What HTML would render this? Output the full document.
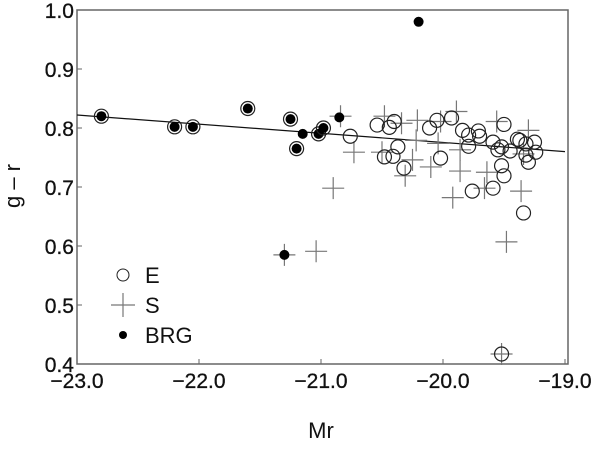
<!DOCTYPE html>
<html><head><meta charset="utf-8"><style>
body{margin:0;background:#fff}
text{font-family:"Liberation Sans",sans-serif;fill:#111}
</style></head><body>
<svg id="chart" width="600" height="446" xmlns="http://www.w3.org/2000/svg">
<g id="axes"></g>
<g id="marks"></g>
<g id="legend">
 <circle cx="123" cy="275" r="6" fill="none" stroke="#222"/>
 <text x="145" y="283" font-size="22">E</text>
 <path d="M111 305H135M123 293V317" stroke="#777" stroke-width="1.2"/>
 <text x="145" y="313" font-size="22">S</text>
 <circle cx="123" cy="335" r="4" fill="#000"/>
 <text x="145" y="343" font-size="22">BRG</text>
</g>
<text x="321" y="438" font-size="22" text-anchor="middle">Mr</text>
<text x="20" y="186" font-size="22" text-anchor="middle" transform="rotate(-90 20 186)">g – r</text>
</svg>
<script>
const xTicks=[-23,-22,-21,-20,-19];
const xTickLabels=["−23.0","−22.0","−21.0","−20.0","−19.0"];
const yTicks=[0.4,0.5,0.6,0.7,0.8,0.9,1.0];
const yTickLabels=["0.4","0.5","0.6","0.7","0.8","0.9","1.0"];
const fitLine=[[-23,0.822],[-19,0.760]];
const eMr=[-20.76,-20.54,-20.44,-20.40,-20.37,-20.48,-20.41,-20.32,-20.11,-20.05,-19.93,-20.02,-19.84,-19.79,-19.71,-19.70,-19.79,-19.76,-19.59,-19.50,-19.52,-19.55,-19.45,-19.39,-19.37,-19.32,-19.25,-19.24,-19.32,-19.30,-19.52,-19.50,-19.59,-19.34,-19.52];
const eGR=[0.786,0.805,0.801,0.811,0.768,0.751,0.752,0.732,0.800,0.813,0.817,0.749,0.796,0.788,0.795,0.786,0.769,0.693,0.776,0.806,0.768,0.763,0.761,0.781,0.779,0.773,0.776,0.759,0.754,0.742,0.736,0.719,0.698,0.656,0.417];
const sMr=[-20.48,-20.34,-20.21,-20.02,-19.89,-20.22,-20.04,-20.73,-20.50,-20.25,-20.31,-20.10,-19.86,-19.86,-19.64,-19.66,-19.92,-19.56,-19.30,-19.34,-19.36,-19.48,-20.90,-21.04,-20.84,-21.30,-19.52];
const sGR=[0.820,0.808,0.813,0.811,0.828,0.779,0.774,0.759,0.759,0.746,0.719,0.734,0.763,0.727,0.725,0.698,0.682,0.811,0.796,0.756,0.693,0.607,0.698,0.591,0.820,0.585,0.417];
const bMr=[-22.8,-22.2,-22.05,-21.6,-21.25,-21.2,-21.15,-21.02,-20.98,-20.85,-20.2,-21.3];
const bGR=[0.820,0.802,0.802,0.833,0.815,0.765,0.790,0.790,0.800,0.818,0.980,0.585];
const bRing=[1,1,1,1,1,1,0,1,1,0,0,0];

const NS="http://www.w3.org/2000/svg";
const X0=77,X1=568,Y0=364,Y1=10;
function sx(v){return 77+(v+23)*122;}
function sy(v){return 364-(v-0.4)*590;}
function mk(tag,attrs,parent){const e=document.createElementNS(NS,tag);for(const k in attrs)e.setAttribute(k,attrs[k]);parent.appendChild(e);return e;}
const axes=document.getElementById('axes'),marks=document.getElementById('marks');
const frame=mk('rect',{x:X0,y:Y1,width:X1-X0,height:Y0-Y1,fill:'none',stroke:'#666','stroke-width':1.5},axes);


xTicks.forEach((t,i)=>{
 const l=mk('line',{x1:sx(t),x2:sx(t),y1:Y0,y2:Y0-5,stroke:'#666'},axes);
 
 
 const tx=mk('text',{x:sx(t),y:Y0+24,'font-size':21,'text-anchor':'middle','stroke':'#111','stroke-width':0.3},axes);
 tx.textContent=xTickLabels[i];
 
 
});
yTicks.forEach((t,i)=>{
 const l=mk('line',{x1:X0,x2:X0+5,y1:sy(t),y2:sy(t),stroke:'#666'},axes);
 
 
 const tx=mk('text',{x:X0-3,y:sy(t)+8,'font-size':21,'text-anchor':'end','stroke':'#111','stroke-width':0.3},axes);
 tx.textContent=yTickLabels[i];
 
 
});
const fl=mk('line',{x1:sx(fitLine[0][0]),y1:sy(fitLine[0][1]),x2:sx(fitLine[1][0]),y2:sy(fitLine[1][1]),stroke:'#111','stroke-width':1.2},marks);


sMr.forEach((m,i)=>{
 const x=sx(m),y=sy(sGR[i]);
 const p=mk('path',{d:`M${x-11} ${y}H${x+11}M${x} ${y-11}V${y+11}`,stroke:'#777','stroke-width':1.2},marks);
 
 
});
eMr.forEach((m,i)=>{
 const c=mk('circle',{cx:sx(m),cy:sy(eGR[i]),r:7,fill:'none',stroke:'#222','stroke-width':1.2},marks);
 
 
});
bMr.forEach((m,i)=>{
 if(bRing[i]){
  const r=mk('circle',{cx:sx(m),cy:sy(bGR[i]),r:7,fill:'none',stroke:'#222','stroke-width':1.2},marks);
  
  
 }
 const c=mk('circle',{cx:sx(m),cy:sy(bGR[i]),r:5,fill:'#000'},marks);
 
 
});
</script>
</body></html>
